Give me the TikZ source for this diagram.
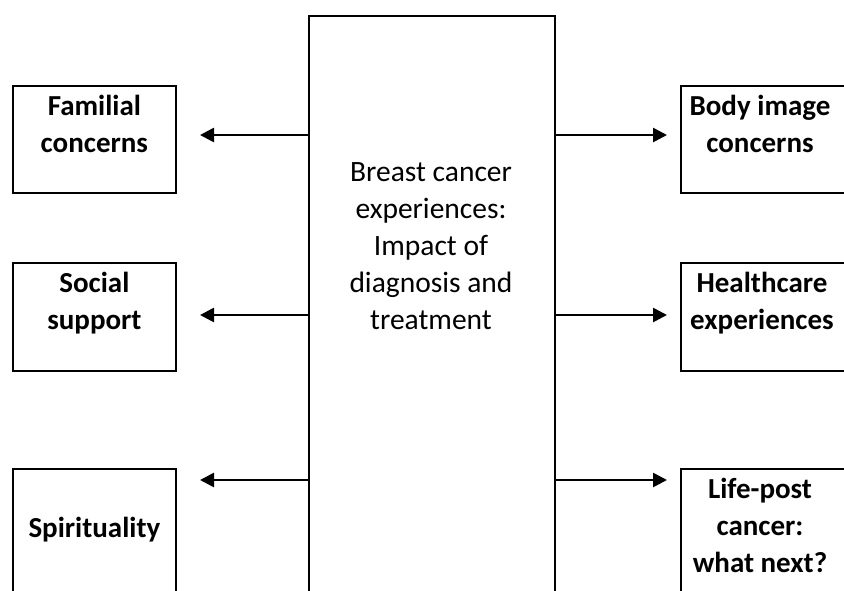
\documentclass[tikz,border=0pt]{standalone}
\usepackage{fontspec}
\setmainfont{Carlito}
\usetikzlibrary{positioning,arrows.meta}

\begin{document}
\begin{tikzpicture}[
  x=1pt, y=-1pt,
  box/.style={draw, line width=1.8pt, inner sep=0pt, anchor=north west},
  sidebox/.style={box, minimum width=163pt},
  boxtext/.style={align=center, inner sep=0pt, font=\fontsize{29}{37}\selectfont\bfseries},
  coretext/.style={align=center, inner sep=0pt, font=\fontsize{29.5}{37}\selectfont},
  arrow/.style={-{Triangle[length=14pt,width=14pt]}, line width=2.6pt}
]
\useasboundingbox (0,0) rectangle (844,590);
\clip (0,0) rectangle (844,590);
% centre column
\node[box, minimum width=246pt, minimum height=600pt] (core) at (308,15) {};
\node[coretext] (coretxt) at (431,246) {Breast cancer\\experiences:\\Impact of\\diagnosis and\\treatment};
% left column
\node[sidebox, minimum height=107pt] (fam) at (12,85) {};
\node[sidebox, minimum height=108pt] (soc) at (12,262) {};
\node[sidebox, minimum height=140pt] (spi) at (12,468) {};
\node[boxtext] (famtxt) at ([yshift=-39pt]fam.north) {Familial\\concerns};
\node[boxtext] (soctxt) at ([yshift=-41pt]soc.north) {Social\\support};
\node[boxtext] (spitxt) at ([yshift=-62pt]spi.north) {Spirituality};
% right column
\node[sidebox, minimum width=170pt, minimum height=107pt] (body) at (680,85) {};
\node[sidebox, minimum width=170pt, minimum height=108pt] (hc) at (680,262) {};
\node[sidebox, minimum width=170pt, minimum height=140pt] (life) at (680,468) {};
\node[boxtext] (bodytxt) at ([xshift=80pt,yshift=-39pt]body.north west) {Body image\\concerns};
\node[boxtext] (hctxt) at ([xshift=82pt,yshift=-41pt]hc.north west) {Healthcare\\experiences};
\node[boxtext] (lifetxt) at ([xshift=80pt,yshift=-57pt]life.north west) {Life-post\\cancer:\\what next?};
% arrows
\draw[arrow] (core.west |- 0,135) -- (200,135);
\draw[arrow] (core.west |- 0,315) -- (200,315);
\draw[arrow] (core.west |- 0,480) -- (200,480);
\draw[arrow] (core.east |- 0,135) -- (667,135);
\draw[arrow] (core.east |- 0,315) -- (667,315);
\draw[arrow] (core.east |- 0,480) -- (667,480);
\end{tikzpicture}
\end{document}
